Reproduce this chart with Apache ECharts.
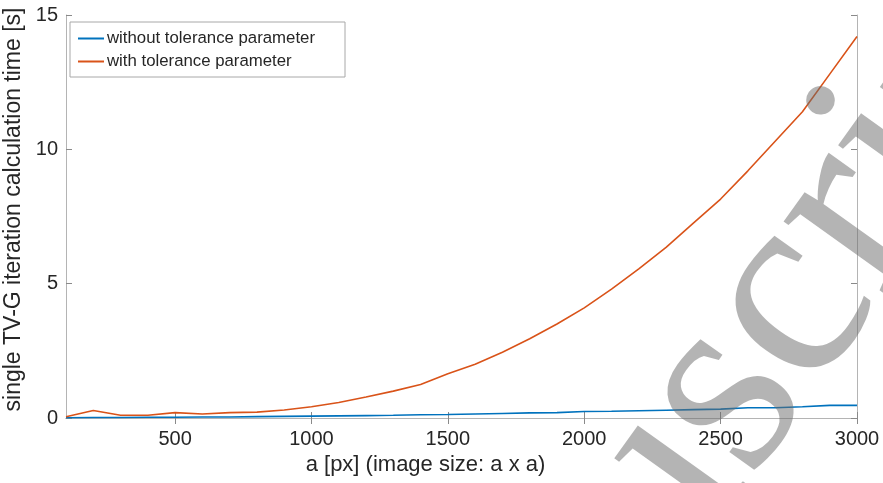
<!DOCTYPE html>
<html>
<head>
<meta charset="utf-8">
<title>TV-G iteration time</title>
<script src="https://cdn.jsdelivr.net/npm/echarts@6/dist/echarts.min.js"></script>
<style>
html, body { margin: 0; padding: 0; background: #fff; }
#chart { width: 883px; height: 483px; }
</style>
</head>
<body>
<div id="chart"></div>
<script>
// image size a (a x a pixels)
var sizes = [100, 200, 300, 400, 500, 600, 700, 800, 900, 1000,
             1100, 1200, 1300, 1400, 1500, 1600, 1700, 1800, 1900, 2000,
             2100, 2200, 2300, 2400, 2500, 2600, 2700, 2800, 2900, 3000];
// time [s] without tolerance parameter
var withoutTol = [0.01, 0.02, 0.02, 0.03, 0.03, 0.04, 0.04, 0.05, 0.06, 0.07,
                  0.08, 0.09, 0.10, 0.12, 0.13, 0.15, 0.17, 0.19, 0.20, 0.24,
                  0.25, 0.27, 0.29, 0.31, 0.33, 0.38, 0.38, 0.42, 0.47, 0.47];
// time [s] with tolerance parameter
var withTol = [0.05, 0.28, 0.10, 0.10, 0.20, 0.15, 0.20, 0.22, 0.30, 0.42,
               0.58, 0.78, 1.00, 1.25, 1.65, 2.00, 2.45, 2.95, 3.50, 4.10,
               4.80, 5.55, 6.35, 7.25, 8.15, 9.20, 10.30, 11.40, 12.80, 14.20];
var xTicks = [500, 1000, 1500, 2000, 2500, 3000];
var yTicks = [0, 5, 10, 15];

var font = 'Liberation Sans';
var boxColor = '#b4b4b4';
var tickColor = '#8a8a8a';

function pairs(ys) {
    return sizes.map(function (x, i) { return [x, ys[i]]; });
}
function plain(v) { return String(v); }

var chart = echarts.init(document.getElementById('chart'), null, { renderer: 'canvas' });

var option = {
    backgroundColor: '#fff',
    animation: false,
    textStyle: { fontFamily: font },
    grid: { left: 66, right: 26, top: 15, bottom: 65, outerBoundsMode: 'none' },
    legend: {
        left: 70, top: 22,
        orient: 'vertical',
        itemGap: 6,
        itemWidth: 26, itemHeight: 2,
        icon: 'rect',
        padding: [8, 30, 7, 8],
        borderColor: '#a8a8a8', borderWidth: 1,
        textStyle: { fontFamily: font, fontSize: 16.8, color: '#262626', padding: [0, 0, 0, -2] },
        data: ['without tolerance parameter', 'with tolerance parameter']
    },
    xAxis: [{
        type: 'value', min: 100, max: 3000,
        name: 'a [px] (image size: a x a)',
        nameLocation: 'middle', nameGap: 36,
        nameTextStyle: { fontFamily: font, fontSize: 22, color: '#262626', padding: [0, 72, 0, 0] },
        axisLine: { show: true, lineStyle: { color: boxColor, width: 1 } },
        axisTick: { show: true, inside: true, length: 6, customValues: xTicks, lineStyle: { color: tickColor } },
        axisLabel: { customValues: xTicks, formatter: plain, fontSize: 20, color: '#262626', margin: 11 },
        splitLine: { show: false }
    }, {
        type: 'value', min: 100, max: 3000, position: 'top',
        axisLine: { show: true, lineStyle: { color: boxColor, width: 1 } },
        axisTick: { show: true, inside: true, length: 6, customValues: xTicks, lineStyle: { color: tickColor } },
        axisLabel: { show: false },
        splitLine: { show: false }
    }],
    yAxis: [{
        type: 'value', min: 0, max: 15, interval: 5,
        name: 'single TV-G iteration calculation time [s]',
        nameLocation: 'middle', nameGap: 35,
        nameTextStyle: { fontFamily: font, fontSize: 23, color: '#262626', padding: [0, 0, 0, 14] },
        axisLine: { show: true, lineStyle: { color: boxColor, width: 1 } },
        axisTick: { show: true, inside: true, length: 6, lineStyle: { color: tickColor } },
        axisLabel: { formatter: plain, fontSize: 20, color: '#262626', margin: 8 },
        splitLine: { show: false }
    }, {
        type: 'value', min: 0, max: 15, interval: 5, position: 'right',
        axisLine: { show: true, lineStyle: { color: boxColor, width: 1 } },
        axisTick: { show: true, inside: true, length: 6, lineStyle: { color: tickColor } },
        axisLabel: { show: false },
        splitLine: { show: false }
    }],
    series: [{
        name: 'without tolerance parameter',
        type: 'line',
        data: pairs(withoutTol),
        showSymbol: false, symbol: 'none',
        itemStyle: { color: '#0072BD' },
        lineStyle: { color: '#0072BD', width: 1.6 }
    }, {
        name: 'with tolerance parameter',
        type: 'line',
        data: pairs(withTol),
        showSymbol: false, symbol: 'none',
        itemStyle: { color: '#D95319' },
        lineStyle: { color: '#D95319', width: 1.6 }
    }],
    // "Manuscript" watermark laid over the plot
    graphic: [{
        type: 'text',
        x: 684, y: 452,
        rotation: 0.95,
        z: 100,
        silent: true,
        style: {
            text: 'Manuscript',
            font: '270px "Liberation Serif"',
            fill: 'rgba(105,105,105,0.5)',
            align: 'center',
            verticalAlign: 'middle'
        }
    }]
};

chart.setOption(option);
</script>
</body>
</html>
